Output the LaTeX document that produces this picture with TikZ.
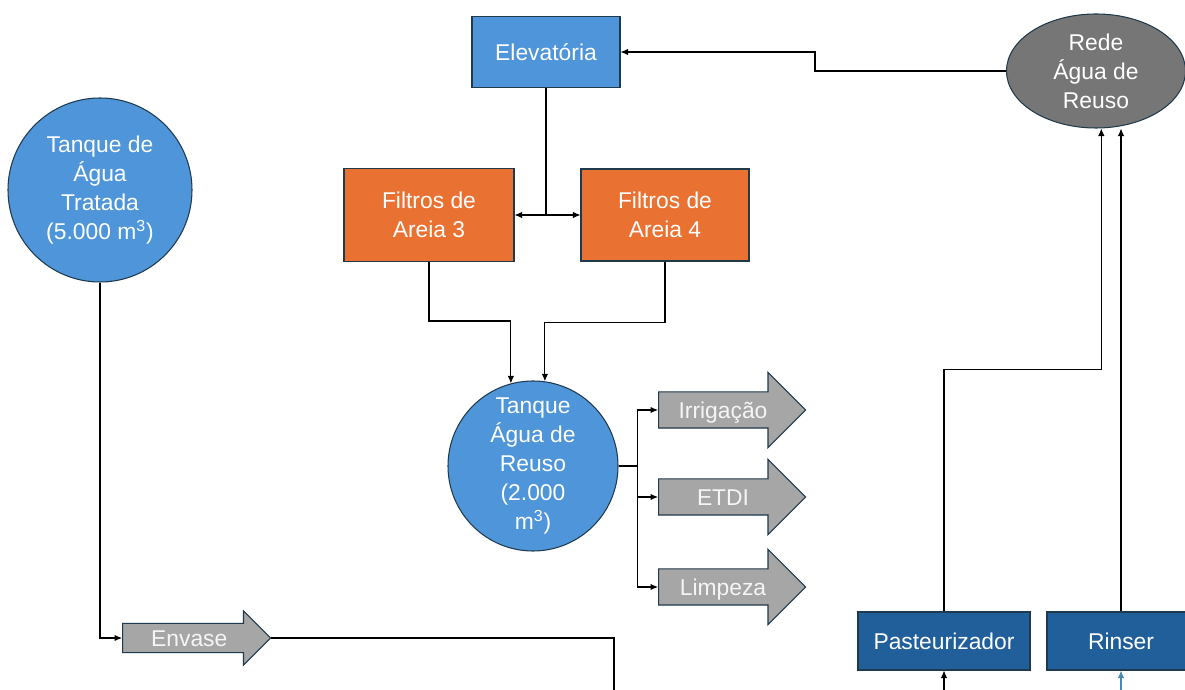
\documentclass[tikz,border=0pt]{standalone}
\usepackage{fontspec}
\setmainfont{Liberation Sans}
\usepackage{tikz}
\usetikzlibrary{arrows.meta,positioning,shapes.geometric,shapes.arrows,calc}
\definecolor{azulclaro}{HTML}{4E95D9}
\definecolor{laranja}{HTML}{E97132}
\definecolor{azulescuro}{HTML}{215F9A}
\definecolor{cinza}{HTML}{767676}
\definecolor{cinzaseta}{HTML}{A6A6A6}
\definecolor{borda}{HTML}{1F3A4C}
\definecolor{azulfio}{HTML}{4A8AB0}
\newcommand{\fs}{\fontsize{13}{16.5}\selectfont}

\begin{document}
\begin{tikzpicture}[x=0.2mm,y=-0.2mm,
  box/.style={draw=borda,line width=0.6pt,text=white,font=\fs,align=center,inner sep=0pt},
  tanque/.style={box,circle,fill=azulclaro},
  seta/.style={single arrow,draw=borda,line width=0.6pt,fill=cinzaseta,text=white!92!gray,font=\fs,
    inner xsep=0pt,text height=4mm,text depth=0.4mm,minimum width=0pt,anchor=tail},
  fio/.style={line width=0.6pt},
  >={Latex[length=1.5mm,width=1.3mm]}]
\useasboundingbox (0,0) rectangle (1185,690);

\node[box,fill=azulclaro,minimum width=29.6mm,minimum height=14.2mm] (E) at (546,52) {Elevatória};
\node[box,fill=laranja,minimum width=34mm,minimum height=18.6mm] (F3) at (429,215) {Filtros de\\Areia 3};
\node[box,fill=laranja,minimum width=33.6mm,minimum height=18.4mm] (F4) at (665,215) {Filtros de\\Areia 4};
\node[tanque,minimum size=36.8mm] (TT) at (100,190) {Tanque de\\Água\\Tratada\\(5.000 m\textsuperscript{3})};
\node[tanque,minimum size=34mm] (TR) at (533,466) {Tanque\\Água de\\Reuso\\(2.000\\m\textsuperscript{3})};
\node[box,ellipse,fill=cinza,minimum width=35.8mm,minimum height=22.8mm] (R) at (1096,71) {Rede\\Água de\\Reuso};
\node[seta,inner ysep=1.3mm,single arrow head extend=3.9mm,minimum height=29.4mm] (Irr) at (658,410) {Irrigação};
\node[seta,inner ysep=1.3mm,single arrow head extend=3.9mm,minimum height=29.4mm] (ETDI) at (658,497) {ETDI};
\node[seta,inner ysep=1.3mm,single arrow head extend=3.9mm,minimum height=29.4mm] (Lim) at (658,587) {Limpeza};
\node[seta,inner ysep=0.6mm,single arrow head extend=2.5mm,minimum height=29.6mm] (Env) at (122,638) {Envase};
\node[box,fill=azulescuro,minimum width=34.4mm,minimum height=11.6mm] (P) at (944,641) {Pasteurizador};
\node[box,fill=azulescuro,minimum width=29.6mm,minimum height=11.6mm] (Rin) at (1121,641) {Rinser};

% free ends at the lower border
\coordinate (saida) at (614,690);
\coordinate (pin) at (944,690);
\coordinate (rin) at (1121,690);

\draw[fio,->] (R.west) -- ++(-191,0) |- (E.east);
\draw[fio,->] (E.south) |- (F3.east);
\draw[fio,->] (E.south) |- (F4.west);
\draw[fio,->] (F3.south) -- ++(0,59) -| (TR.105);
\draw[fio,->] (F4.south) -- ++(0,61) -| (TR.82);
\draw[fio] (TR.east) -- ++(19,0) coordinate (ram);
\draw[fio,->] (ram) |- (Irr.tail);
\draw[fio,->] (ram) |- (ETDI.tail);
\draw[fio,->] (ram) |- (Lim.tail);
\draw[fio,->] (TT.south) |- (Env.tail);
\draw[fio] (Env.tip) -| (saida);
\draw[fio,->] (P.north) -- ++(0,-242) -| ([xshift=3]R.south);
\draw[fio,->] (Rin.north) -- (Rin.north |- R.south);
\draw[fio,->] (pin) -- (P.south);
\draw[fio,->,azulfio] (rin) -- (Rin.south);
\end{tikzpicture}
\end{document}
